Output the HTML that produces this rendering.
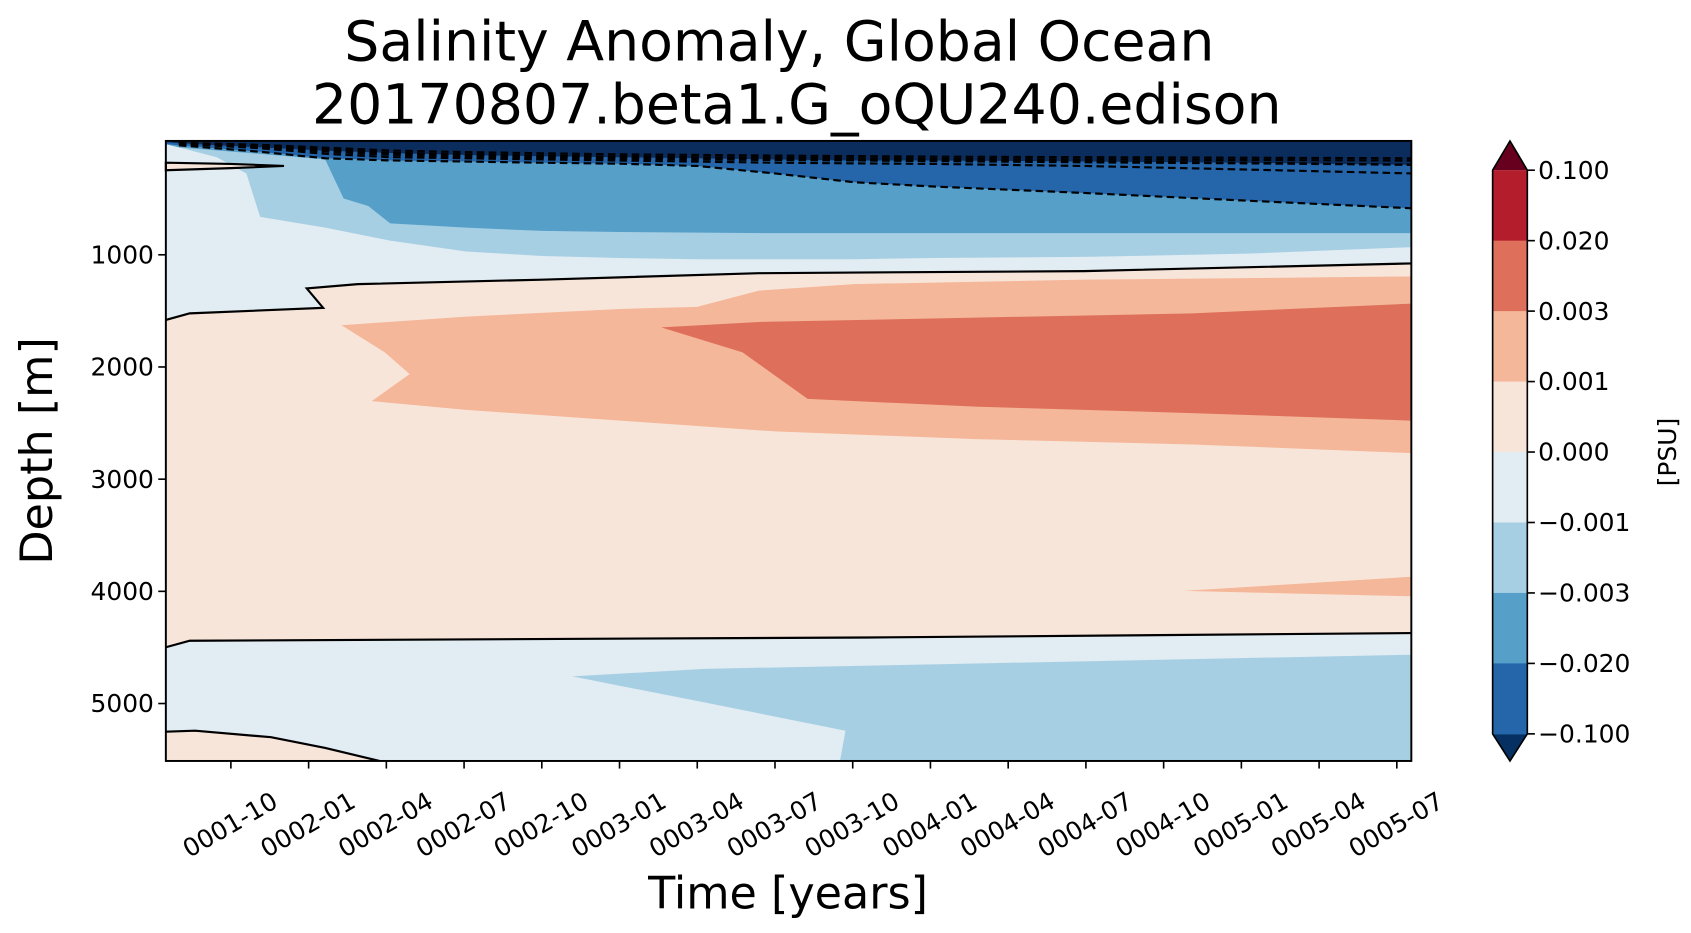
<!DOCTYPE html>
<html><head><meta charset="utf-8"><style>
html,body{margin:0;padding:0;background:#fff;}
svg{display:block;font-family:"DejaVu Sans","Liberation Sans",sans-serif;}
</style></head><body>
<svg id="chart" width="1691" height="933" viewBox="0 0 1560 860.7" xmlns="http://www.w3.org/2000/svg">
<text x="719" y="56" font-size="51" text-anchor="middle">Salinity Anomaly, Global Ocean</text>
<text x="735" y="114" font-size="51" text-anchor="middle">20170807.beta1.G_oQU240.edison</text>
<g id="plot"></g>
<g id="axes"></g>
<g id="cbar"></g>
<text x="727" y="838" font-size="41" text-anchor="middle">Time [years]</text>
<text transform="translate(48,416) rotate(-90)" font-size="41" text-anchor="middle">Depth [m]</text>
<text transform="translate(1546,417) rotate(-90)" font-size="23" text-anchor="middle">[PSU]</text>
</svg>
<script>
// ---- data (months since 0001-01, depth in m) ----
const xTickMonths = [9,12,15,18,21,24,27,30,33,36,39,42,45,48,51,54];
const xTickLabels = ["0001-10","0002-01","0002-04","0002-07","0002-10","0003-01","0003-04","0003-07","0003-10","0004-01","0004-04","0004-07","0004-10","0005-01","0005-04","0005-07"];
const yTickValues = [1000,2000,3000,4000,5000];
const cbarLevels = ["0.100","0.020","0.003","0.001","0.000","\u22120.001","\u22120.003","\u22120.020","\u22120.100"];
const cbarColors = ["#b31d2c","#dd6f5b","#f5b799","#f8e5da","#e1ecf3","#a7cfe3","#569fc9","#2566ab"];
const colPink="#f8e5da", colSalmon="#f5b799", colRed="#dd6f5b", colPale="#e1ecf3", colLight="#a7cfe3", colMid="#569fc9", colDark="#2566ab", colNavy="#0a2d5e";
const colMonths = [6.49,6.99,10.13,12.64,15.15,18.08,21.01,24.02,27,30,33.05,36.07,41.93,48.21,54.56];
const navyBottom = [-5,5,43,72,92,111,121,130,140,150,159,159,169,179,198];
const darkBottom = [14,24,82,140,159,169,179,188,208,275,353,391,449,517,585];
const dash2 = [5,10,50,100,130,140,150,160,170,179,185,190,208,240,275];
const dash3 = [0,8,40,80,110,125,135,145,150,155,159,165,175,185,198];
const dash4 = [-5,5,30,60,90,105,115,125,130,135,140,145,150,155,160];
const dash5 = [-5,0,20,45,70,85,95,105,110,115,120,125,130,135,140];
const midMonths = [6.49,6.99,10.13,12.64,13.35,14.3,15.15,18.08,21.01,24.02,30,41.93,54.56];
const midBottom = [14,43,101,150,498,565,720,758,787,797,807,807,807];
const lightMonths = [6.49,6.99,8.46,9.6,10.13,12.64,15.15,18.08,21.01,24.02,27,33.05,36.07,41.93,48.21,54.56];
const lightBottom = [14,43,130,275,662,758,874,971,1010,1029,1039,1039,1029,1019,990,932];
const zeroUpMonths = [6.49,7.41,12.56,11.93,13.90,21.01,29.38,41.93,54.56];
const zeroUpDepth = [1580,1522,1473,1300,1261,1222,1164,1145,1077];
const salmonMonths = [13.27,18.08,24.02,26.99,29.38,33.05,41.93,54.56,54.56,46.10,37.74,30.0,24.02,18.08,14.44,15.90,14.94];
const salmonDepth = [1628,1551,1483,1464,1319,1261,1222,1193,2768,2691,2643,2575,2478,2382,2304,2063,1870];
const redMonths = [25.61,29.38,37.74,46.10,54.56,54.56,46.10,37.74,31.26,28.75];
const redDepth = [1647,1599,1560,1522,1435,2478,2411,2353,2285,1870];
const deepMonths = [45.78,54.56,54.56];
const deepDepth = [3996,3870,4044];
const zeroLowMonths = [6.49,7.41,16.82,33.56,54.56];
const zeroLowDepth = [4498,4440,4430,4411,4372];
const lowLightMonths = [22.18,27.28,37.74,54.56,54.56,32.51,32.72,27.28];
const lowLightDepth = [4758,4691,4643,4565,5512,5512,5242,4990];
const bottomPinkMonths = [6.49,7.62,10.55,12.64,14.73];
const bottomPinkDepth = [5251,5242,5300,5396,5512];
const spikeMonths = [6.49,9,11.05,9,6.49];
const spikeDepth = [179,190,208,228,246];

// ---- axes ----
const X0=153,X1=1302,Y0=130,Y1=702, M0=6.49, M1=54.56, D0=-15, D1=5512;
const xs = m => X0 + (m-M0)/(M1-M0)*(X1-X0);
const ys = d => Y0 + (d-D0)/(D1-D0)*(Y1-Y0);
const NS="http://www.w3.org/2000/svg";
const plot=document.getElementById('plot'), axes=document.getElementById('axes'), cbar=document.getElementById('cbar');
function mk(tag, parent, attrs){const e=document.createElementNS(NS,tag);for(const k in attrs)e.setAttribute(k,attrs[k]);parent.appendChild(e);return e;}
const pts = (ms,ds)=>ms.map((m,i)=>xs(m).toFixed(1)+','+ys(ds[i]).toFixed(1));
function topRegion(ms,ds,fill,name){
  const p=[xs(M0)+','+ys(D0),xs(M1)+','+ys(D0)].concat(pts(ms,ds).reverse());
  const e=mk('polygon',plot,{points:p.join(' '),fill:fill});
  
  
}
function region(ms,ds,fill,name,stroke){
  const e=mk('polygon',plot,{points:pts(ms,ds).join(' '),fill:fill});
  if(stroke){e.setAttribute('stroke','#000');e.setAttribute('stroke-width','2');}
  
  
}
function line(ms,ds,name,dash){
  const e=mk('polyline',plot,{points:pts(ms,ds).join(' '),fill:'none',stroke:'#000','stroke-width':'2'});
  if(dash)e.setAttribute('stroke-dasharray','7,4');
  
  
}
const bg=mk('rect',plot,{x:X0,y:Y0,width:X1-X0,height:Y1-Y0,fill:colPink});


topRegion(zeroUpMonths,zeroUpDepth,colPale,'upper-pale-blue-region');
topRegion(lightMonths,lightBottom,colLight,'upper-light-blue-region');
topRegion(midMonths,midBottom,colMid,'upper-mid-blue-region');
topRegion(colMonths,darkBottom,colDark,'upper-dark-blue-region');
topRegion(colMonths,navyBottom,colNavy,'surface-navy-region');
region(salmonMonths,salmonDepth,colSalmon,'salmon-region');
region(redMonths,redDepth,colRed,'red-region');
region(deepMonths,deepDepth,colSalmon,'deep-salmon-patch');
region(zeroLowMonths.concat([54.56,6.49]),zeroLowDepth.concat([5512,5512]),colPale,'lower-pale-blue-region');
region(lowLightMonths,lowLightDepth,colLight,'lower-light-blue-region');
region(bottomPinkMonths.concat([6.49]),bottomPinkDepth.concat([5512]),colPink,'bottom-left-pink-region');
region(spikeMonths,spikeDepth,colPink,'surface-spike-contour',true);
line(zeroUpMonths,zeroUpDepth,'zero-contour-upper');
line(zeroLowMonths,zeroLowDepth,'zero-contour-lower');
line(bottomPinkMonths,bottomPinkDepth,'zero-contour-bottom');
line(colMonths.slice(1),darkBottom.slice(1),'negative-contour-1',true);
line(colMonths.slice(1),dash2.slice(1),'negative-contour-2',true);
line(colMonths.slice(1),dash3.slice(1),'negative-contour-3',true);
line(colMonths.slice(1),dash4.slice(1),'negative-contour-4',true);
line(colMonths.slice(1),navyBottom.slice(1),'negative-contour-5',true);
line(colMonths.slice(1),dash5.slice(1),'negative-contour-6',true);
const fr=mk('rect',axes,{x:X0,y:Y0,width:X1-X0,height:Y1-Y0,fill:'none',stroke:'#000','stroke-width':'1.8'});


xTickMonths.forEach((m,i)=>{
  const x=xs(m);
  const t=mk('line',axes,{x1:x,x2:x,y1:Y1,y2:Y1+7,stroke:'#000','stroke-width':'1.5'});
  
  
  const cy=Y1+60;
  const l=mk('text',axes,{x:x,y:cy,'font-size':'23','text-anchor':'middle','dominant-baseline':'middle',transform:`rotate(-30 ${x} ${cy})`});
  l.textContent=xTickLabels[i];
  
  
});
yTickValues.forEach(v=>{
  const y=ys(v);
  const t=mk('line',axes,{x1:X0-7,x2:X0,y1:y,y2:y,stroke:'#000','stroke-width':'1.5'});
  
  
  const l=mk('text',axes,{x:X0-11,y:y+8,'font-size':'23','text-anchor':'end'});
  l.textContent=String(v);
  
  
});
const CX0=1377,CX1=1409,CT=157,CB=677,bandH=(CB-CT)/cbarColors.length;
const up=mk('polygon',cbar,{points:`${CX0},${CT} ${(CX0+CX1)/2},130 ${CX1},${CT}`,fill:'#67001f'});


const dn=mk('polygon',cbar,{points:`${CX0},${CB} ${(CX0+CX1)/2},702 ${CX1},${CB}`,fill:'#053061'});


cbarColors.forEach((c,i)=>{
  const r=mk('rect',cbar,{x:CX0,y:CT+i*bandH,width:CX1-CX0,height:bandH+0.5,fill:c});
  
  
});
const ol=mk('polygon',cbar,{points:`${CX0},${CT} ${(CX0+CX1)/2},130 ${CX1},${CT} ${CX1},${CB} ${(CX0+CX1)/2},702 ${CX0},${CB}`,fill:'none',stroke:'#000','stroke-width':'1.5'});


cbarLevels.forEach((s,i)=>{
  const y=CT+i*bandH;
  const t=mk('line',cbar,{x1:CX1,x2:CX1+7,y1:y,y2:y,stroke:'#000','stroke-width':'1.5'});
  
  
  const l=mk('text',cbar,{x:CX1+10,y:y+8,'font-size':'23'});
  l.textContent=s;
  
  
});
</script>
</body></html>
